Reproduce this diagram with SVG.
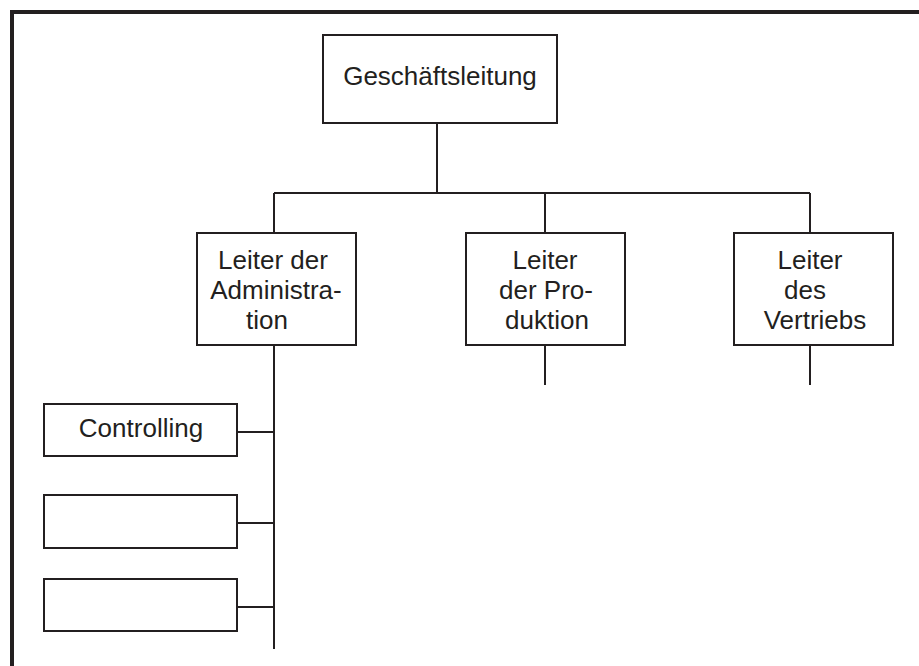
<svg xmlns="http://www.w3.org/2000/svg" width="919" height="666" viewBox="0 0 919 666">
  <style>
    .box { fill: #ffffff; stroke: #231f20; stroke-width: 2; }
    .link { fill: none; stroke: #231f20; stroke-width: 2; }
    .frame { fill: none; stroke: #231f20; stroke-width: 4; }
    text { font-family: "Liberation Sans", Arial, sans-serif; font-size: 26px; fill: #231f20; text-anchor: middle; }
  </style>
  <rect width="919" height="666" fill="#ffffff"/>
  <!-- page frame, open to the right and bottom -->
  <path class="frame" d="M12,666 V12 H919"/>

  <g id="connectors">
    <path class="link" d="M437,123 V193"/>
    <path class="link" d="M274,193 H810"/>
    <path class="link" d="M274,193 V233"/>
    <path class="link" d="M545,193 V233"/>
    <path class="link" d="M810,193 V233"/>
    <path class="link" d="M545,345 V385"/>
    <path class="link" d="M810,345 V385"/>
    <path class="link" d="M274,345 V649"/>
    <path class="link" d="M237,432 H274"/>
    <path class="link" d="M237,523 H274"/>
    <path class="link" d="M237,607 H274"/>
  </g>

  <g id="geschaeftsleitung">
    <rect class="box" x="323" y="35" width="234" height="88"/>
    <text x="440" y="85">Geschäftsleitung</text>
  </g>

  <g id="administration">
    <rect class="box" x="197" y="233" width="159" height="112"/>
    <text x="273" y="269">Leiter der</text>
    <text x="276" y="299">Administra-</text>
    <text x="267" y="329">tion</text>
  </g>

  <g id="produktion">
    <rect class="box" x="466" y="233" width="159" height="112"/>
    <text x="545" y="269">Leiter</text>
    <text x="546" y="299">der Pro-</text>
    <text x="547" y="329">duktion</text>
  </g>

  <g id="vertrieb">
    <rect class="box" x="734" y="233" width="159" height="112"/>
    <text x="810" y="269">Leiter</text>
    <text x="805" y="299">des</text>
    <text x="815" y="329">Vertriebs</text>
  </g>

  <g id="controlling">
    <rect class="box" x="44" y="404" width="193" height="52"/>
    <text x="141" y="437">Controlling</text>
  </g>

  <g id="stelle-2">
    <rect class="box" x="44" y="495" width="193" height="53"/>
  </g>

  <g id="stelle-3">
    <rect class="box" x="44" y="579" width="193" height="52"/>
  </g>
</svg>
